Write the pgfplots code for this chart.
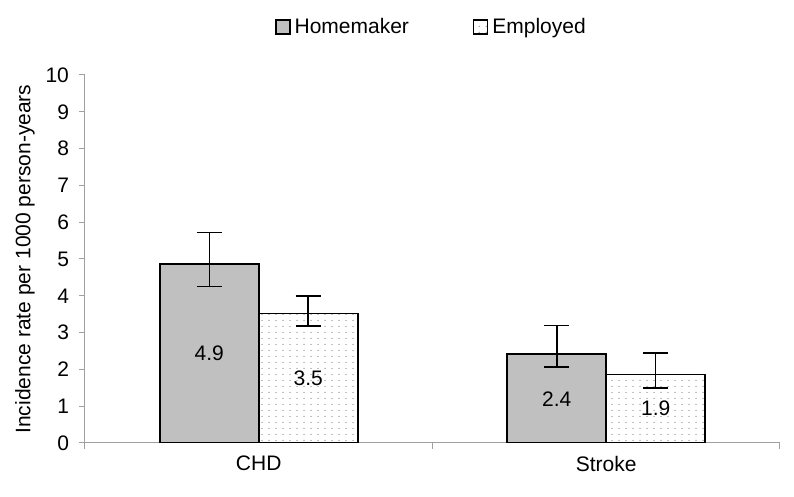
\documentclass[border=0pt]{standalone}
\usepackage{pgfplots}
\pgfplotsset{compat=1.18}
\usepackage{fontspec}
\setmainfont{Liberation Sans}
\usetikzlibrary{patterns.meta}

\definecolor{homefill}{RGB}{192,192,192}
\definecolor{axgray}{RGB}{160,160,160}
\definecolor{dotgray}{RGB}{140,140,140}

% sparse dot fill used by Excel for the "Employed" bars
\pgfdeclarepattern{
  name=sparsedots,
  type=uncolored,
  bottom left={\pgfpoint{0pt}{0pt}},
  top right={\pgfpoint{3.5pt}{3pt}},
  tile size={\pgfpoint{3.5pt}{3pt}},
  code={\pgfpathcircle{\pgfpoint{1.75pt}{1.5pt}}{0.38pt}\pgfusepath{fill}}
}

\begin{document}
\begin{tikzpicture}[font=\fontsize{10.5}{12}\selectfont]
\begin{axis}[
    name=ax,
    scale only axis,
    width=347.5pt, height=184pt,
    xmin=-0.5, xmax=1.5,
    ymin=0, ymax=10,
    ytick={0,1,...,10},
    xtick={-0.5,0.5,1.5},
    xticklabels={},
    extra x ticks={0,1},
    extra x tick labels={CHD,Stroke},
    extra x tick style={major tick length=0pt, tick label style={yshift=-3pt}},
    axis x line*=bottom,
    axis y line*=left,
    axis line style={axgray, line width=0.5pt},
    tick style={axgray, line width=0.5pt},
    tick align=outside,
    major tick length=3pt,
    /pgf/number format/assume math mode=true,
    yticklabel style={xshift=-1.5pt},
    ylabel={Incidence rate per 1000 person-years},
    ylabel style={at={(axis description cs:-0.0863,0.5)}, anchor=center},
    legend style={at={(axis description cs:0.5,1.13)}, anchor=center, draw=none,
        legend columns=2, /tikz/every even column/.append style={column sep=30pt}},
    legend image code/.code={\draw[#1,line width=0.7pt] (0pt,-3.5pt) rectangle (7pt,3.5pt);},
]

% Homemaker bars (bar centres at category -0.1424)
\addplot[ybar, bar width=49.5pt, bar shift=0pt, draw=black, line width=0.9pt, fill=homefill,
    error bars/.cd, y dir=both, y explicit,
    error bar style={black, line width=0.75pt},
    error mark options={rotate=90, mark size=6.25pt, line width=0.75pt, black}]
coordinates {
    (-0.1424,4.87) += (0,0.85) -= (0,0.62)
    (0.8576,2.41) += (0,0.78) -= (0,0.34)
};
\addlegendentry{Homemaker}

% Employed bars (bar centres at category +0.1424)
\addplot[ybar, bar width=49.5pt, bar shift=0pt, draw=black, line width=0.9pt, fill=white,
    pattern={sparsedots}, pattern color=dotgray,
    error bars/.cd, y dir=both, y explicit,
    error bar style={black, line width=0.75pt},
    error mark options={rotate=90, mark size=6.25pt, line width=0.75pt, black}]
coordinates {
    (0.1424,3.52) += (0,0.48) -= (0,0.34)
    (1.1424,1.86) += (0,0.58) -= (0,0.36)
};
\addlegendentry{Employed}

% value labels, set at half of each bar's height
\addplot[draw=none, mark=none, forget plot, nodes near coords, point meta=explicit symbolic,
    every node near coord/.style={anchor=center, black}]
coordinates {(-0.1424,2.44)[4.9] (0.8576,1.2)[2.4] (0.1424,1.76)[3.5] (1.1424,0.93)[1.9]};

\end{axis}
\pgfresetboundingbox
\path ([shift={(-42.5pt,-27pt)}]ax.south west) rectangle ([shift={(354.5pt,221.5pt)}]ax.south west);
\end{tikzpicture}
\end{document}
